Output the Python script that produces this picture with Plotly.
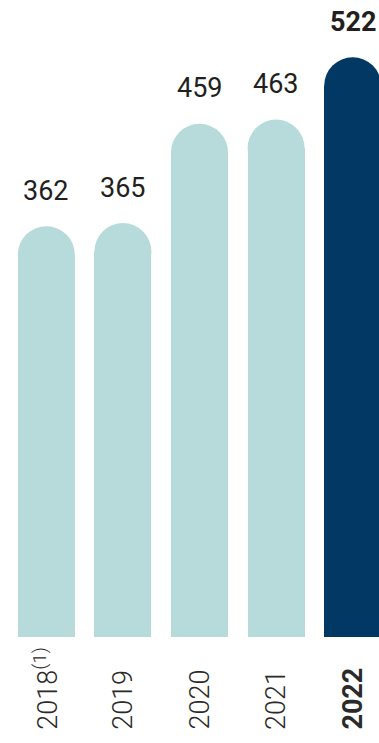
import plotly.graph_objects as go

# Data
years = ["2018", "2019", "2020", "2021", "2022"]
year_labels = ["2018<sup>(1)</sup>", "2019", "2020", "2021", "<b>2022</b>"]
values = [362, 365, 459, 463, 522]

LIGHT = "#b7dbdb"
DARK = "#023864"
TEXT = "#231f20"

colors = [LIGHT] * 4 + [DARK]
xs = list(range(len(years)))

BAR_W = 0.745          # bar width in category units
PX_PER_CAT = 76.6      # pixels per category
CAP_PX = 57            # diameter of the rounded cap in pixels

fig = go.Figure()

# Rectangular bar bodies
fig.add_trace(go.Bar(
    x=xs, y=values, width=BAR_W,
    marker=dict(color=colors, line=dict(width=0)),
    hoverinfo="skip",
))

# Round caps sitting on top of each bar
fig.add_trace(go.Scatter(
    x=xs, y=values, mode="markers",
    marker=dict(size=CAP_PX, color=colors, line=dict(width=0)),
    cliponaxis=False, hoverinfo="skip",
))

annotations = []
for i, (v, lab) in enumerate(zip(values, year_labels)):
    bold = i == len(values) - 1
    annotations.append(dict(
        x=i, y=v, xref="x", yref="y",
        text=f"<b>{v}</b>" if bold else str(v),
        showarrow=False, yanchor="bottom", xanchor="center",
        yshift=46,
        font=dict(family="Roboto", size=27, color=TEXT),
    ))
    annotations.append(dict(
        x=i, y=-0.149, xref="x", yref="paper",
        text=lab, textangle=-90,
        showarrow=False, yanchor="bottom", xanchor="center",
        font=dict(family="Roboto", size=27, color="#2a2a2a",
                  weight=700 if bold else 300),
    ))

fig.update_layout(
    width=379, height=743,
    margin=dict(l=8, r=0, t=0, b=106),
    paper_bgcolor="white", plot_bgcolor="white",
    showlegend=False,
    bargap=0,
    xaxis=dict(range=[-0.5, -0.5 + 371 / PX_PER_CAT], showticklabels=False,
               showgrid=False, zeroline=False, showline=False, fixedrange=True),
    yaxis=dict(range=[0, 637 / 1.056], visible=False, showgrid=False,
               zeroline=False, fixedrange=True),
    annotations=annotations,
)

fig.write_html("out.html", config={"displayModeBar": False})
